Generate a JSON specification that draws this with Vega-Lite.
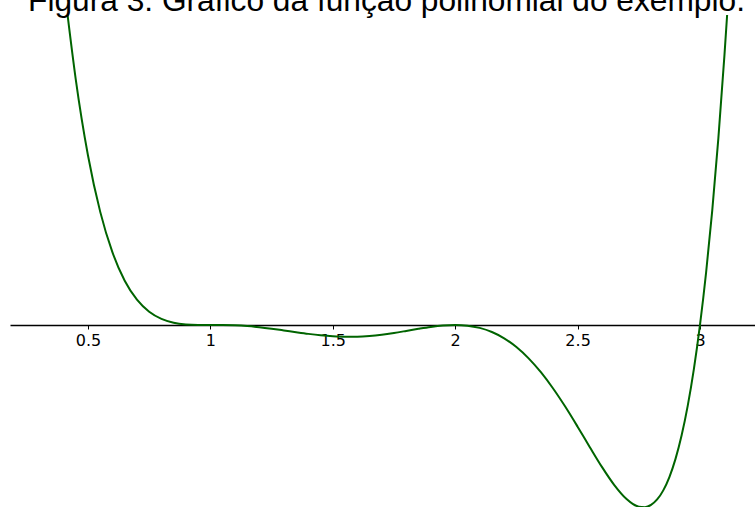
{
  "$schema": "https://vega.github.io/schema/vega-lite/v6.json",
  "width": 745,
  "height": 492,
  "autosize": {"type": "none"},
  "padding": {"top": 15, "left": 10, "right": 0, "bottom": 0},
  "background": "white",
  "title": {
    "text": "Figura 3: Gráfico da função polinomial do exemplo.",
    "font": "Liberation Sans",
    "fontSize": 31.7,
    "fontWeight": "normal",
    "color": "#000000",
    "anchor": "middle",
    "baseline": "alphabetic",
    "offset": 5,
    "dx": 4,
    "dy": 33
  },
  "config": {"view": {"stroke": null}},
  "data": {
    "values": [
      {"x": 0.4165, "y": 1.286968},
      {"x": 0.45, "y": 1.019276},
      {"x": 0.50, "y": 0.703125},
      {"x": 0.55, "y": 0.469396},
      {"x": 0.60, "y": 0.301056},
      {"x": 0.65, "y": 0.183628},
      {"x": 0.70, "y": 0.104949},
      {"x": 0.75, "y": 0.054932},
      {"x": 0.80, "y": 0.025344},
      {"x": 0.85, "y": 0.009596},
      {"x": 0.90, "y": 0.002541},
      {"x": 0.95, "y": 0.000283},
      {"x": 1.00, "y": 0},
      {"x": 1.05, "y": -0.000220},
      {"x": 1.10, "y": -0.001539},
      {"x": 1.15, "y": -0.004511},
      {"x": 1.20, "y": -0.009216},
      {"x": 1.25, "y": -0.015381},
      {"x": 1.30, "y": -0.022491},
      {"x": 1.35, "y": -0.029889},
      {"x": 1.40, "y": -0.036864},
      {"x": 1.45, "y": -0.042726},
      {"x": 1.50, "y": -0.046875},
      {"x": 1.55, "y": -0.048852},
      {"x": 1.60, "y": -0.048384},
      {"x": 1.65, "y": -0.045416},
      {"x": 1.70, "y": -0.040131},
      {"x": 1.75, "y": -0.032959},
      {"x": 1.80, "y": -0.024576},
      {"x": 1.85, "y": -0.015890},
      {"x": 1.90, "y": -0.008019},
      {"x": 1.95, "y": -0.002251},
      {"x": 2.00, "y": 0},
      {"x": 2.05, "y": -0.002749},
      {"x": 2.10, "y": -0.011979},
      {"x": 2.15, "y": -0.029087},
      {"x": 2.20, "y": -0.055296},
      {"x": 2.25, "y": -0.091553},
      {"x": 2.30, "y": -0.138411},
      {"x": 2.35, "y": -0.195908},
      {"x": 2.40, "y": -0.263424},
      {"x": 2.45, "y": -0.339541},
      {"x": 2.50, "y": -0.421875},
      {"x": 2.55, "y": -0.506913},
      {"x": 2.60, "y": -0.589824},
      {"x": 2.65, "y": -0.664273},
      {"x": 2.70, "y": -0.722211},
      {"x": 2.725, "y": -0.741952},
      {"x": 2.75, "y": -0.753662},
      {"x": 2.775, "y": -0.755755},
      {"x": 2.80, "y": -0.746496},
      {"x": 2.825, "y": -0.723993},
      {"x": 2.85, "y": -0.686190},
      {"x": 2.875, "y": -0.630856},
      {"x": 2.90, "y": -0.555579},
      {"x": 2.925, "y": -0.457759},
      {"x": 2.95, "y": -0.334596},
      {"x": 2.975, "y": -0.183084},
      {"x": 3.00, "y": 0},
      {"x": 3.025, "y": 0.218104},
      {"x": 3.05, "y": 0.474909},
      {"x": 3.075, "y": 0.774340},
      {"x": 3.10, "y": 1.120581},
      {"x": 3.111, "y": 1.288890}
    ]
  },
  "mark": {"type": "line", "color": "#006400", "strokeWidth": 2, "clip": true, "interpolate": "monotone"},
  "encoding": {
    "x": {
      "field": "x",
      "type": "quantitative",
      "scale": {"domain": [0.1814, 3.2247], "nice": false, "zero": false},
      "axis": {
        "title": null,
        "offset": -182,
        "values": [0.5, 1, 1.5, 2, 2.5, 3],
        "format": "~g",
        "grid": false,
        "domainColor": "#000000",
        "domainWidth": 1.3,
        "tickColor": "#000000",
        "tickSize": 4,
        "tickWidth": 1,
        "labelFont": "DejaVu Sans",
        "labelFontSize": 16,
        "labelColor": "#000000",
        "labelPadding": 3,
        "labelFlush": false
      }
    },
    "y": {
      "field": "y",
      "type": "quantitative",
      "scale": {"domain": [-0.7552, 1.2863], "nice": false, "zero": false},
      "axis": null
    }
  }
}
